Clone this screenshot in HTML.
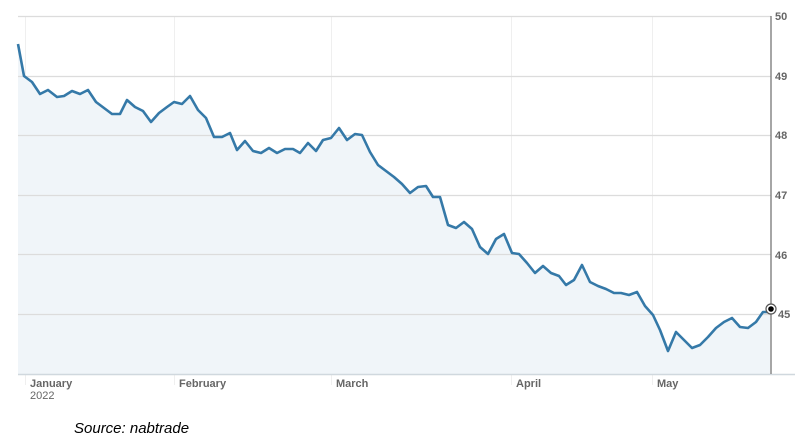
<!DOCTYPE html>
<html><head><meta charset="utf-8"><style>
body{margin:0;background:#fff;width:812px;height:445px;overflow:hidden}
svg{display:block}
.t{font-family:"Liberation Sans",sans-serif;font-size:11px;font-weight:bold;fill:#666}
</style></head><body>
<svg width="812" height="445" viewBox="0 0 812 445">
<g stroke="#efefef" stroke-width="1">
<line x1="25.5" y1="16" x2="25.5" y2="385"/><line x1="174.5" y1="16" x2="174.5" y2="385"/>
<line x1="331.5" y1="16" x2="331.5" y2="385"/><line x1="511.5" y1="16" x2="511.5" y2="385"/>
<line x1="652.5" y1="16" x2="652.5" y2="385"/>
</g>
<polygon fill="#f0f5f9" points="18,44 24,76 32,82 40,94 48,90 57,97 64,96 72,91 80,94 88,90 96,102 104,108 112,114 120,114 127,100 135,107 143,111 151,122 159,113 167,107 174,102 182,104 190,96 198,110 206,118 214,137 222,137 230,133 237,150 245,141 253,151 261,153 269,148 277,153 285,149 293,149 300,153 308,143 316,151 323,140 331,138 339,128 347,140 355,134 362,135 370,152 378,165 386,171 394,177 402,184 410,193 418,187 426,186 433,197 440,197 448,225 456,228 464,222 472,229 480,247 488,254 496,239 504,234 512,253 519,254 527,263 535,273 543,266 551,273 559,276 566,285 574,280 582,265 590,282 598,286 606,289 614,293 621,293 629,295 637,292 645,306 653,315 660,330 668,351 676,332 684,340 692,348 700,345 708,337 716,328 724,322 732,318 740,327 748,328 756,322 763,312 770,312 770,374 18,374"/>
<g stroke="#dcdcdc" stroke-width="1.2">
<line x1="18" y1="16.5" x2="771" y2="16.5"/><line x1="18" y1="76.5" x2="771" y2="76.5"/>
<line x1="18" y1="135.5" x2="771" y2="135.5"/><line x1="18" y1="195.5" x2="771" y2="195.5"/>
<line x1="18" y1="254.5" x2="771" y2="254.5"/><line x1="18" y1="314.5" x2="771" y2="314.5"/>
</g>
<line x1="18" y1="374.5" x2="795" y2="374.5" stroke="#d0d8de" stroke-width="1.5"/>
<line x1="771" y1="16" x2="771" y2="374" stroke="#777" stroke-width="1.3"/>
<polyline fill="none" stroke="#3579a8" stroke-width="2.6" stroke-linejoin="round" points="18,44 24,76 32,82 40,94 48,90 57,97 64,96 72,91 80,94 88,90 96,102 104,108 112,114 120,114 127,100 135,107 143,111 151,122 159,113 167,107 174,102 182,104 190,96 198,110 206,118 214,137 222,137 230,133 237,150 245,141 253,151 261,153 269,148 277,153 285,149 293,149 300,153 308,143 316,151 323,140 331,138 339,128 347,140 355,134 362,135 370,152 378,165 386,171 394,177 402,184 410,193 418,187 426,186 433,197 440,197 448,225 456,228 464,222 472,229 480,247 488,254 496,239 504,234 512,253 519,254 527,263 535,273 543,266 551,273 559,276 566,285 574,280 582,265 590,282 598,286 606,289 614,293 621,293 629,295 637,292 645,306 653,315 660,330 668,351 676,332 684,340 692,348 700,345 708,337 716,328 724,322 732,318 740,327 748,328 756,322 763,312 770,312"/>
<circle cx="771" cy="309" r="5" fill="#fff" stroke="#555" stroke-width="1.2"/>
<circle cx="771" cy="309" r="2.8" fill="#000"/>
<g class="t">
<text x="775" y="20">50</text><text x="775" y="80">49</text><text x="775" y="139">48</text>
<text x="775" y="199">47</text><text x="775" y="259">46</text><text x="778" y="318">45</text>
<text x="30" y="387">January</text><text x="179" y="387">February</text><text x="336" y="387">March</text>
<text x="516" y="387">April</text><text x="657" y="387">May</text>
<text x="30" y="399" style="font-weight:normal">2022</text>
</g>
<text x="74" y="433" style="font-family:'Liberation Sans',sans-serif;font-size:15px;font-style:italic;fill:#000">Source: nabtrade</text>
</svg>
</body></html>
